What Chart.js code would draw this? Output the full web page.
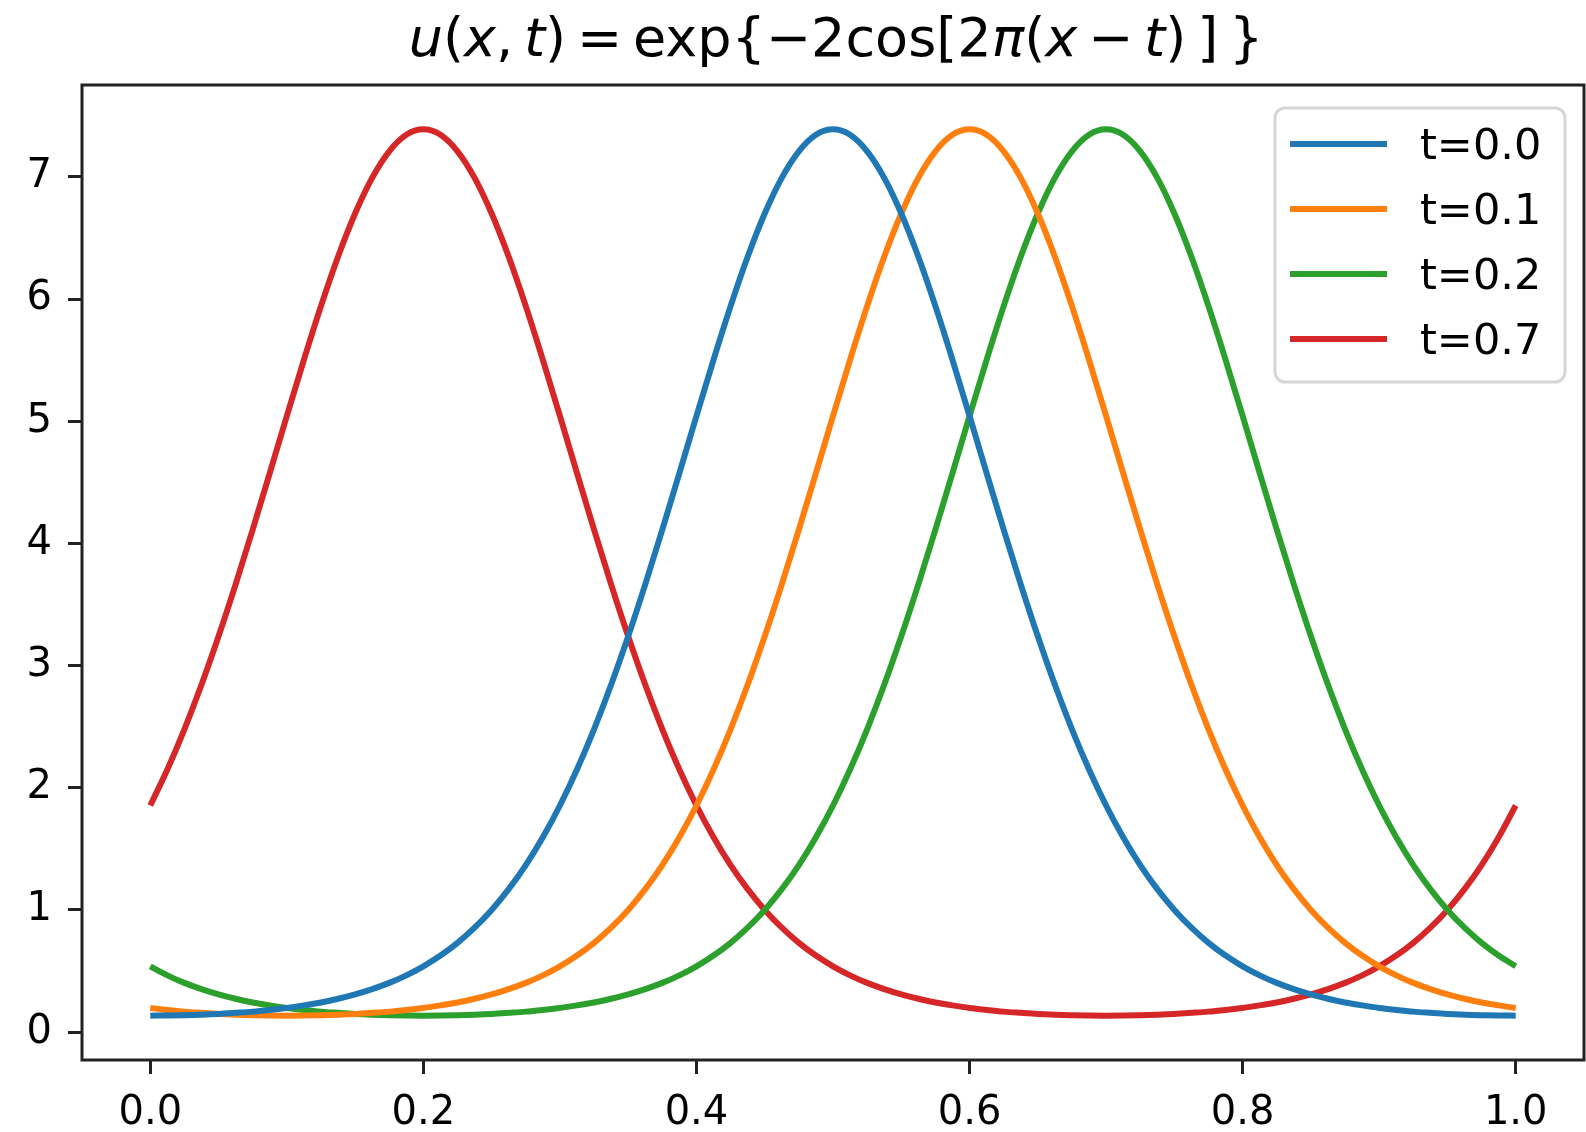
<!DOCTYPE html>
<html>
<head>
<meta charset="utf-8">
<script src="https://cdn.jsdelivr.net/npm/chart.js@4/dist/chart.umd.min.js"></script>
<style>
  html, body { margin: 0; padding: 0; background: #fff; }
  #wrap { position: relative; width: 1586px; height: 1132px; overflow: hidden; }
  #title {
    position: absolute; left: 0; top: 11px; width: 1672px; text-align: center;
    font-family: "DejaVu Sans", sans-serif; font-size: 54px; line-height: 54px;
    color: #000; white-space: nowrap;
  }
  #title i { font-style: italic; }
  canvas { position: absolute; left: 0; top: 0; }
</style>
</head>
<body>
<div id="wrap">
  <canvas id="plot" width="1586" height="1132"></canvas>
  <div id="title"><i>u</i>(<i>x</i>,&thinsp;<i>t</i>)&thinsp;=&thinsp;exp{−2cos[2<i>π</i>(<i>x</i>&thinsp;−&thinsp;<i>t</i>)&thinsp;]&thinsp;}</div>
</div>
<script>
// x positions sampled along the curves
const xs = [0, 0.0125, 0.025, 0.0375, 0.05, 0.0625, 0.075, 0.0875, 0.1, 0.1125,
  0.125, 0.1375, 0.15, 0.1625, 0.175, 0.1875, 0.2, 0.2125, 0.225, 0.2375,
  0.25, 0.2625, 0.275, 0.2875, 0.3, 0.3125, 0.325, 0.3375, 0.35, 0.3625,
  0.375, 0.3875, 0.4, 0.4125, 0.425, 0.4375, 0.45, 0.4625, 0.475, 0.4875,
  0.5, 0.5125, 0.525, 0.5375, 0.55, 0.5625, 0.575, 0.5875, 0.6, 0.6125,
  0.625, 0.6375, 0.65, 0.6625, 0.675, 0.6875, 0.7, 0.7125, 0.725, 0.7375,
  0.75, 0.7625, 0.775, 0.7875, 0.8, 0.8125, 0.825, 0.8375, 0.85, 0.8625,
  0.875, 0.8875, 0.9, 0.9125, 0.925, 0.9375, 0.95, 0.9625, 0.975, 0.9875,
  1.0];

const u_t00 = [0.135, 0.136, 0.139, 0.143, 0.149, 0.158, 0.168, 0.182, 0.198, 0.219,
  0.243, 0.273, 0.309, 0.352, 0.403, 0.465, 0.539, 0.627, 0.731, 0.855,
  1.000, 1.170, 1.367, 1.595, 1.855, 2.150, 2.479, 2.843, 3.240, 3.665,
  4.113, 4.576, 5.043, 5.503, 5.942, 6.346, 6.700, 6.992, 7.209, 7.344,
  7.389, 7.344, 7.209, 6.992, 6.700, 6.346, 5.942, 5.503, 5.043, 4.576,
  4.113, 3.665, 3.240, 2.843, 2.479, 2.150, 1.855, 1.595, 1.367, 1.170,
  1.000, 0.855, 0.731, 0.627, 0.539, 0.465, 0.403, 0.352, 0.309, 0.273,
  0.243, 0.219, 0.198, 0.182, 0.168, 0.158, 0.149, 0.143, 0.139, 0.136,
  0.135];

const u_t01 = [0.198, 0.182, 0.168, 0.158, 0.149, 0.143, 0.139, 0.136, 0.135, 0.136,
  0.139, 0.143, 0.149, 0.158, 0.168, 0.182, 0.198, 0.219, 0.243, 0.273,
  0.309, 0.352, 0.403, 0.465, 0.539, 0.627, 0.731, 0.855, 1.000, 1.170,
  1.367, 1.595, 1.855, 2.150, 2.479, 2.843, 3.240, 3.665, 4.113, 4.576,
  5.043, 5.503, 5.942, 6.346, 6.700, 6.992, 7.209, 7.344, 7.389, 7.344,
  7.209, 6.992, 6.700, 6.346, 5.942, 5.503, 5.043, 4.576, 4.113, 3.665,
  3.240, 2.843, 2.479, 2.150, 1.855, 1.595, 1.367, 1.170, 1.000, 0.855,
  0.731, 0.627, 0.539, 0.465, 0.403, 0.352, 0.309, 0.273, 0.243, 0.219,
  0.198];

const u_t02 = [0.539, 0.465, 0.403, 0.352, 0.309, 0.273, 0.243, 0.219, 0.198, 0.182,
  0.168, 0.158, 0.149, 0.143, 0.139, 0.136, 0.135, 0.136, 0.139, 0.143,
  0.149, 0.158, 0.168, 0.182, 0.198, 0.219, 0.243, 0.273, 0.309, 0.352,
  0.403, 0.465, 0.539, 0.627, 0.731, 0.855, 1.000, 1.170, 1.367, 1.595,
  1.855, 2.150, 2.479, 2.843, 3.240, 3.665, 4.113, 4.576, 5.043, 5.503,
  5.942, 6.346, 6.700, 6.992, 7.209, 7.344, 7.389, 7.344, 7.209, 6.992,
  6.700, 6.346, 5.942, 5.503, 5.043, 4.576, 4.113, 3.665, 3.240, 2.843,
  2.479, 2.150, 1.855, 1.595, 1.367, 1.170, 1.000, 0.855, 0.731, 0.627,
  0.539];

const u_t07 = [1.855, 2.150, 2.479, 2.843, 3.240, 3.665, 4.113, 4.576, 5.043, 5.503,
  5.942, 6.346, 6.700, 6.992, 7.209, 7.344, 7.389, 7.344, 7.209, 6.992,
  6.700, 6.346, 5.942, 5.503, 5.043, 4.576, 4.113, 3.665, 3.240, 2.843,
  2.479, 2.150, 1.855, 1.595, 1.367, 1.170, 1.000, 0.855, 0.731, 0.627,
  0.539, 0.465, 0.403, 0.352, 0.309, 0.273, 0.243, 0.219, 0.198, 0.182,
  0.168, 0.158, 0.149, 0.143, 0.139, 0.136, 0.135, 0.136, 0.139, 0.143,
  0.149, 0.158, 0.168, 0.182, 0.198, 0.219, 0.243, 0.273, 0.309, 0.352,
  0.403, 0.465, 0.539, 0.627, 0.731, 0.855, 1.000, 1.170, 1.367, 1.595,
  1.855];

const seriesLabels = ['t=0.0', 't=0.1', 't=0.2', 't=0.7'];
const xTicks = [0, 0.2, 0.4, 0.6, 0.8, 1.0];
const yTicks = [0, 1, 2, 3, 4, 5, 6, 7];

const colors = ['#1f77b4', '#ff7f0e', '#2ca02c', '#d62728'];
const axisColor = '#222';
const font = { family: 'DejaVu Sans', size: 40 };

const toPoints = ys => xs.map((x, i) => ({ x: x, y: ys[i] }));

const frame = {
    id: 'frame',
    afterDatasetsDraw(chart) {
        const { ctx, chartArea: a } = chart;
        ctx.save();
        ctx.strokeStyle = axisColor;
        ctx.lineWidth = 3;
        ctx.strokeRect(a.left, a.top, a.right - a.left, a.bottom - a.top);
        ctx.restore();
    }
};

const boxLegend = {
    id: 'boxLegend',
    afterDraw(chart) {
        const ctx = chart.ctx;
        const bx = 1275, by = 108, bw = 290, bh = 274, r = 10;
        ctx.save();
        ctx.beginPath();
        ctx.roundRect(bx, by, bw, bh, r);
        ctx.fillStyle = 'rgba(255,255,255,0.8)';
        ctx.fill();
        ctx.strokeStyle = '#d6d6d6';
        ctx.lineWidth = 3;
        ctx.stroke();
        ctx.font = '43px "DejaVu Sans"';
        ctx.fillStyle = '#000';
        ctx.textAlign = 'left';
        ctx.textBaseline = 'alphabetic';
        chart.data.datasets.forEach((ds, i) => {
            const y = 144 + i * 65;
            ctx.beginPath();
            ctx.moveTo(1290, y);
            ctx.lineTo(1387, y);
            ctx.strokeStyle = ds.borderColor;
            ctx.lineWidth = 6;
            ctx.stroke();
            ctx.fillText(ds.label, 1420, y + 15);
        });
        ctx.restore();
    }
};

new Chart(document.getElementById('plot'), {
    type: 'line',
    data: {
        datasets: [u_t00, u_t01, u_t02, u_t07].map((ys, i) => ({
            label: seriesLabels[i],
            data: toPoints(ys),
            borderColor: colors[i],
            borderWidth: 6,
            pointRadius: 0,
            fill: false,
            cubicInterpolationMode: 'monotone'
        }))
    },
    options: {
        responsive: false,
        animation: false,
        devicePixelRatio: 1,
        layout: { padding: { left: 0, right: 2, top: 85, bottom: 0 } },
        plugins: { legend: { display: false }, tooltip: { enabled: false }, title: { display: false } },
        scales: {
            x: {
                type: 'linear', min: -0.05, max: 1.05,
                afterBuildTicks: s => { s.ticks = xTicks.map(v => ({ value: v })); },
                afterFit: s => { s.height = 72; },
                grid: { drawOnChartArea: false, drawTicks: true, tickLength: 14, tickWidth: 3, tickColor: axisColor },
                border: { display: false },
                ticks: { font: font, color: '#000', padding: 16, maxRotation: 0, autoSkip: false,
                    callback: v => v.toFixed(1) }
            },
            y: {
                type: 'linear', min: -0.228, max: 7.752,
                afterBuildTicks: s => { s.ticks = yTicks.map(v => ({ value: v })); },
                afterFit: s => { s.width = 82; },
                grid: { drawOnChartArea: false, drawTicks: true, tickLength: 14, tickWidth: 3, tickColor: axisColor },
                border: { display: false },
                ticks: { font: font, color: '#000', padding: 16, autoSkip: false,
                    callback: v => String(v) }
            }
        }
    },
    plugins: [frame, boxLegend]
});
</script>
</body>
</html>
